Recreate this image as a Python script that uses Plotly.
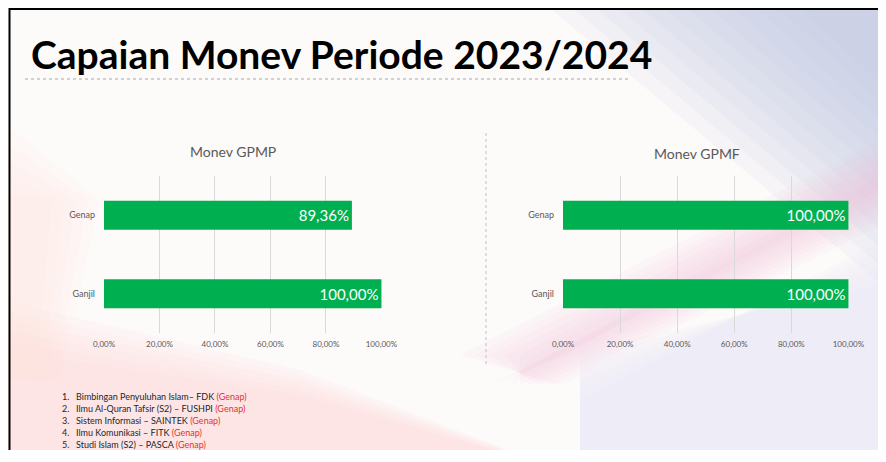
import plotly.graph_objects as go

# data
categories = ["Ganjil", "Genap"]
gpmp_values = [1.0, 0.8936]
gpmf_values = [1.0, 1.0]
chart_titles = ["Monev GPMP", "Monev GPMF"]
tick_values = [0, 0.2, 0.4, 0.6, 0.8, 1.0]
main_title = "Capaian Monev Periode 2023/2024"
list_items = [
    "Bimbingan Penyuluhan Islam– FDK",
    "Ilmu Al-Quran Tafsir (S2) – FUSHPI",
    "Sistem Informasi – SAINTEK",
    "Ilmu Komunikasi – FITK",
    "Studi Islam (S2) – PASCA",
]
list_tags = ["(Genap)"] * 5

# the page body keeps an 8px margin, so the figure is made smaller and
# positions below are given in window pixels, then shifted
OFF = 8
W, H = 886 - 2 * OFF, 462 - 2 * OFF - 4
FONT = "Lato, 'Open Sans', sans-serif"
GREEN = "#00B050"
GRID = "#d9d9d9"
GREY = "#595959"


def px(x):
    return (x - OFF) / W


def py(y):
    return 1 - (y - OFF) / H


fig = go.Figure()
fig.add_trace(go.Bar(y=categories, x=gpmp_values, orientation="h", width=0.37,
                     marker=dict(color=GREEN, line=dict(width=0)),
                     texttemplate="%{x:.2%}", textposition="inside",
                     insidetextanchor="end",
                     textfont=dict(color="white", size=15, family=FONT),
                     xaxis="x", yaxis="y", showlegend=False))
fig.add_trace(go.Bar(y=categories, x=gpmf_values, orientation="h", width=0.37,
                     marker=dict(color=GREEN, line=dict(width=0)),
                     texttemplate="%{x:.2%}", textposition="inside",
                     insidetextanchor="end",
                     textfont=dict(color="white", size=15, family=FONT),
                     xaxis="x2", yaxis="y2", showlegend=False))

xax = dict(range=[0, 1.002], tickvals=tick_values, tickformat=".2%",
           showgrid=True, gridcolor=GRID, gridwidth=1, zeroline=False,
           showline=False, ticks="", fixedrange=True, automargin=False,
           ticklabelstandoff=5,
           tickfont=dict(size=8, color=GREY, family=FONT))
yax = dict(showgrid=False, zeroline=False, showline=False, ticks="",
           ticklabelstandoff=8, range=[-0.5, 1.5], automargin=False,
           tickfont=dict(size=9, color=GREY, family=FONT))

ydom = [py(333), py(176)]
fig.update_layout(
    template="none",
    width=W, height=H,
    margin=dict(l=0, r=0, t=0, b=0, autoexpand=False),
    separators=",.",
    paper_bgcolor="#fdfafa",
    plot_bgcolor="rgba(0,0,0,0)",
    xaxis=dict(xax, domain=[px(104), px(382)], anchor="y"),
    yaxis=dict(yax, domain=ydom, anchor="x"),
    xaxis2=dict(xax, domain=[px(563), px(849)], anchor="y2"),
    yaxis2=dict(yax, domain=ydom, anchor="x2"),
)


def poly(points, color, opacity):
    path = "M " + " L ".join(f"{px(x)},{py(y)}" for x, y in points) + " Z"
    return dict(type="path", path=path, fillcolor=color, opacity=opacity,
                line=dict(width=0), layer="below")


# background washes, stacked thin layers to fake the gradients
shapes = []
for k in range(12):
    shapes.append(poly([(540 + 23 * k, 0), (900, 0), (900, 300 - 18 * k)], "#c1c6e7", 0.11))
for k in range(8):
    shapes.append(poly([(460 + 15 * k, 355), (900, 130 + 5 * k), (900, 215 - 5 * k), (560 - 10 * k, 385)],
                       "#efbfd8", 0.08))
for k in range(6):
    shapes.append(poly([(580, 400 - 10 * k), (900, 230 + 10 * k), (900, 470), (580, 470)], "#e2e1f3", 0.11))
for k in range(6):
    shapes.append(poly([(0, 300 + 10 * k), (300, 370 + 5 * k), (560, 470), (0, 470)], "#fbd9d9", 0.12))
for k in range(5):
    shapes.append(poly([(0, 120 + 18 * k), (100 - 12 * k, 200), (60 - 6 * k, 380), (0, 380)], "#fbe1d8", 0.11))
shapes += [
    # slide border
    dict(type="line", x0=px(9), x1=1, y0=py(OFF + 1), y1=py(OFF + 1),
         line=dict(color="black", width=2)),
    dict(type="line", x0=px(9.5), x1=px(9.5), y0=1, y1=0,
         line=dict(color="black", width=2)),
    # title underline
    dict(type="line", x0=px(25), x1=px(628), y0=py(79), y1=py(79),
         line=dict(color="#a6a6a6", width=1, dash="dot")),
    # divider between charts
    dict(type="line", x0=px(486), x1=px(486), y0=py(133), y1=py(367),
         line=dict(color="#bfbfbf", width=1, dash="dot")),
]
for s in shapes:
    s.update(xref="paper", yref="paper")
fig.update_layout(shapes=shapes)

annotations = [
    dict(text=main_title, x=px(29), y=py(54), xanchor="left", yanchor="middle",
         font=dict(family=FONT, size=39, color="black", weight="bold")),
    dict(text=chart_titles[0], x=px(233), y=py(152), xanchor="center", yanchor="middle",
         font=dict(family=FONT, size=14, color=GREY)),
    dict(text=chart_titles[1], x=px(697), y=py(154), xanchor="center", yanchor="middle",
         font=dict(family=FONT, size=14, color=GREY)),
]
for i, (item, tag) in enumerate(zip(list_items, list_tags)):
    yy = py(396 + i * 12.2)
    annotations.append(dict(text=f"{i + 1}.", x=px(60), y=yy, xanchor="left", yanchor="middle",
                            font=dict(family=FONT, size=9, color="#262626")))
    annotations.append(dict(text=f"{item} <span style='color:#e8302c'>{tag}</span>",
                            x=px(74), y=yy, xanchor="left", yanchor="middle",
                            font=dict(family=FONT, size=9, color="#262626")))
for a in annotations:
    a.update(xref="paper", yref="paper", showarrow=False)
fig.update_layout(annotations=annotations)

fig.write_html("out.html")
